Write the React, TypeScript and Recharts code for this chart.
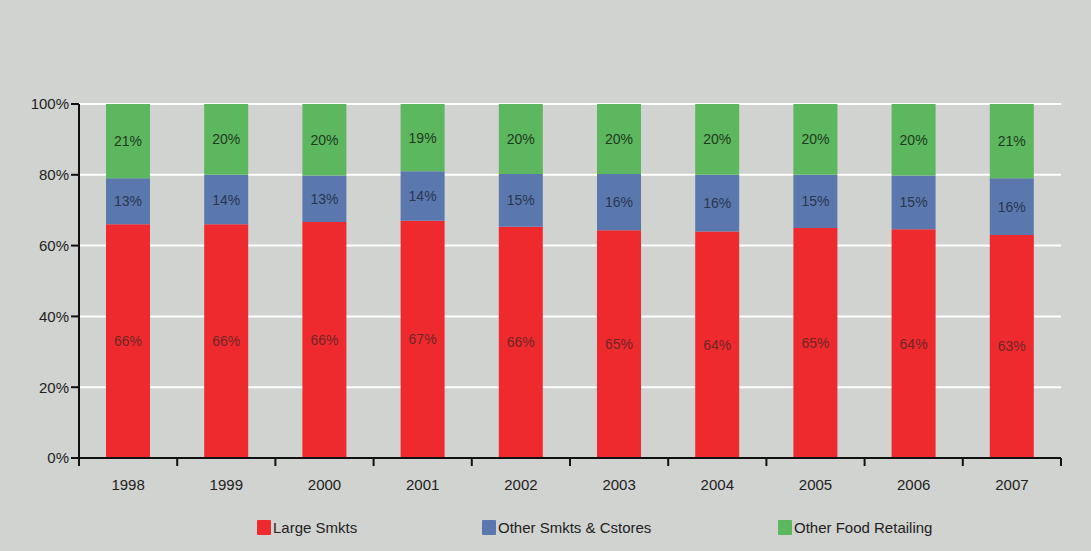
import React from 'react';
import { BarChart, Bar, XAxis, YAxis, CartesianGrid, LabelList } from 'recharts';

const years = ['1998', '1999', '2000', '2001', '2002', '2003', '2004', '2005', '2006', '2007'];
const largeSmkts = [66, 66, 66, 67, 66, 65, 64, 65, 64, 63];
const otherSmkts = [13, 14, 13, 14, 15, 16, 16, 15, 15, 16];
const otherFood = [21, 20, 20, 19, 20, 20, 20, 20, 20, 21];
const yTicks = [0, 0.2, 0.4, 0.6, 0.8, 1];

const seriesNames = ['Large Smkts', 'Other Smkts & Cstores', 'Other Food Retailing'];
const seriesColors = ['#ee2a2e', '#5a78ae', '#5cb75e'];
const labelColors = ['#6e2626', '#2a3552', '#1e3a20'];

const data = years.map((y, i) => ({
  year: y,
  large: largeSmkts[i],
  other: otherSmkts[i],
  food: otherFood[i],
}));

const W = 1091;
const H = 551;
const M = { top: 104, right: 30, left: 14, bottom: 63 };
const YW = 65;
const plotW = W - M.left - M.right - YW;
const band = plotW / years.length;
const FONT = '"Liberation Sans Narrow", "Arial Narrow", "Liberation Sans", Arial, sans-serif';

const XTick = (props: any) => {
  const { x, y, payload, index } = props;
  const last = index === years.length - 1;
  return (
    <g>
      <line x1={x - band / 2} y1={y - 8} x2={x - band / 2} y2={y} stroke="#111" strokeWidth={2} />
      {last && <line x1={x + band / 2} y1={y - 8} x2={x + band / 2} y2={y} stroke="#111" strokeWidth={2} />}
      <text x={x} y={y + 24} textAnchor="middle" fontSize={15} fill="#222" fontFamily={FONT}>
        {payload.value}
      </text>
    </g>
  );
};

const keys = ['large', 'other', 'food'];
const legendX = [257, 482, 778];

export default function App() {
  return (
    <div style={{ position: 'absolute', left: 0, top: 0, width: W, height: H, background: '#d1d3d0', overflow: 'hidden' }}>
      <BarChart width={W} height={H} data={data} stackOffset="expand" margin={M} barSize={44}>
        <CartesianGrid horizontal={true} vertical={false} stroke="#ffffff" strokeWidth={2} />
        <XAxis
          dataKey="year"
          axisLine={{ stroke: '#111', strokeWidth: 2 }}
          tickLine={false}
          tick={<XTick />}
          interval={0}
          height={30}
        />
        <YAxis
          width={YW}
          domain={[0, 1]}
          ticks={yTicks}
          tickFormatter={(v: number) => `${Math.round(v * 100)}%`}
          axisLine={{ stroke: '#111', strokeWidth: 2 }}
          tickLine={{ stroke: '#111', strokeWidth: 2 }}
          tickSize={8}
          tick={{ fontSize: 15, fill: '#222', fontFamily: FONT }}
        />
        {keys.map((k, i) => (
          <Bar key={k} dataKey={k} stackId="a" fill={seriesColors[i]} isAnimationActive={false} name={seriesNames[i]}>
            <LabelList
              dataKey={k}
              position="center"
              formatter={(v: any) => `${v}%`}
              style={{ fontSize: 14, fill: labelColors[i], fontFamily: FONT }}
            />
          </Bar>
        ))}
      </BarChart>
      <div style={{ position: 'absolute', top: 519, left: 0, width: W, fontFamily: FONT, fontSize: 15, color: '#222' }}>
        {seriesNames.map((n, i) => (
          <div key={n} style={{ position: 'absolute', left: legendX[i], display: 'flex', alignItems: 'center' }}>
            <span style={{ display: 'inline-block', width: 14, height: 15, background: seriesColors[i], marginRight: 2, borderRadius: 1 }} />
            <span>{n}</span>
          </div>
        ))}
      </div>
    </div>
  );
}
